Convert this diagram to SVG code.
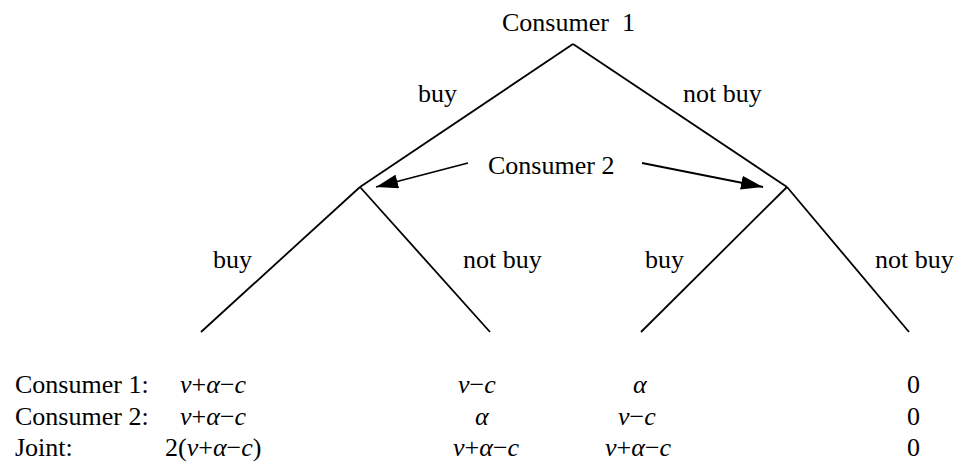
<svg xmlns="http://www.w3.org/2000/svg" width="958" height="468" viewBox="0 0 958 468">
<style>
text{font-family:"Liberation Serif","Times New Roman",serif;font-size:26px;fill:#000}
.i{font-style:italic}
.e{stroke:#000;stroke-width:1.8;fill:none}
.a{stroke:#000;stroke-width:1.8;fill:none}
</style>
<defs>
<marker id="ah" markerWidth="22" markerHeight="14" refX="22" refY="7" orient="auto" markerUnits="userSpaceOnUse">
<path d="M0,0 L22,7 L0,14 Z" fill="#000"/>
</marker>
</defs>
<g id="connectors">
<line class="e" x1="573" y1="44" x2="360" y2="187"/>
<line class="e" x1="573" y1="44" x2="787" y2="187"/>
<line class="e" x1="360" y1="187" x2="201" y2="332"/>
<line class="e" x1="360" y1="187" x2="490" y2="332"/>
<line class="e" x1="787" y1="187" x2="641" y2="332"/>
<line class="e" x1="787" y1="187" x2="909" y2="332"/>
<line class="a" x1="468" y1="163" x2="376" y2="187" marker-end="url(#ah)"/>
<line class="a" x1="642" y1="163" x2="763" y2="187" marker-end="url(#ah)"/>
</g>
<g id="consumer1"><text x="502" y="31" xml:space="preserve">Consumer  1</text></g>
<g id="consumer2"><text x="488" y="174">Consumer 2</text></g>
<g id="labels">
<text x="418" y="102">buy</text>
<text x="683" y="102">not buy</text>
<text x="213" y="268">buy</text>
<text x="463" y="268">not buy</text>
<text x="645" y="268">buy</text>
<text x="875" y="268">not buy</text>
</g>
<g id="payoffs">
<text x="15" y="393">Consumer 1:</text>
<text x="15" y="425">Consumer 2:</text>
<text x="15" y="456">Joint:</text>
<text x="180" y="393"><tspan class="i">v</tspan>+<tspan class="i">α</tspan>−<tspan class="i">c</tspan></text>
<text x="180" y="425"><tspan class="i">v</tspan>+<tspan class="i">α</tspan>−<tspan class="i">c</tspan></text>
<text x="165" y="456">2(<tspan class="i">v</tspan>+<tspan class="i">α</tspan>−<tspan class="i">c</tspan>)</text>
<text x="458" y="393"><tspan class="i">v</tspan>−<tspan class="i">c</tspan></text>
<text x="475" y="425" class="i">α</text>
<text x="453" y="456"><tspan class="i">v</tspan>+<tspan class="i">α</tspan>−<tspan class="i">c</tspan></text>
<text x="633" y="393" class="i">α</text>
<text x="618" y="425"><tspan class="i">v</tspan>−<tspan class="i">c</tspan></text>
<text x="605" y="456"><tspan class="i">v</tspan>+<tspan class="i">α</tspan>−<tspan class="i">c</tspan></text>
<text x="907" y="393">0</text>
<text x="907" y="425">0</text>
<text x="907" y="456">0</text>
</g>
</svg>
